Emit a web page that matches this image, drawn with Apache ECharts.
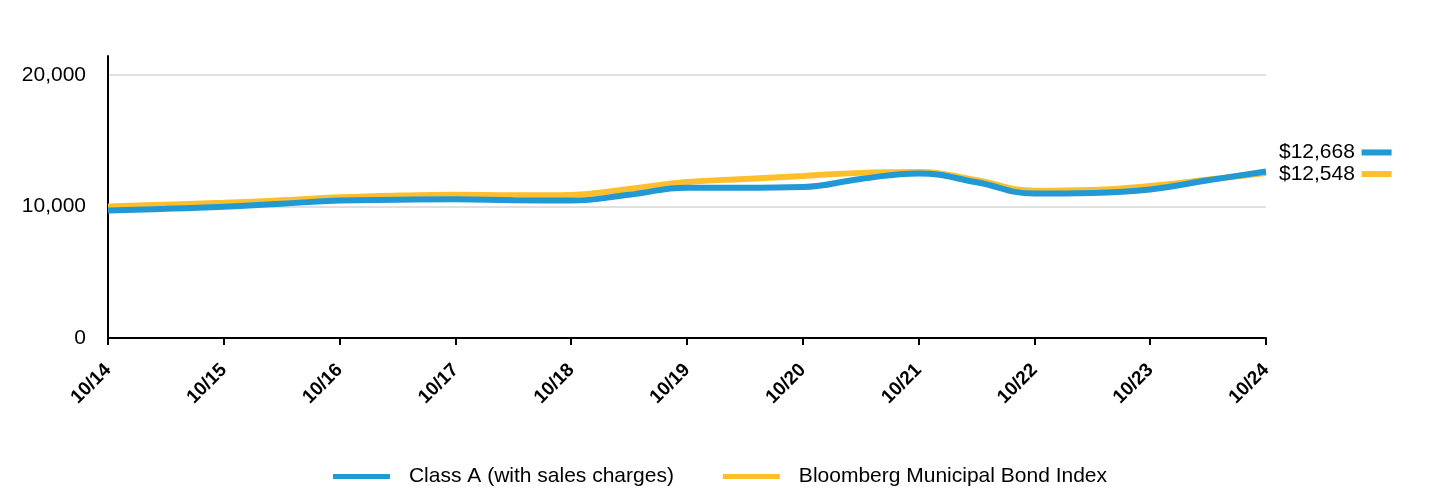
<!DOCTYPE html>
<html><head><meta charset="utf-8">
<script src="https://cdn.jsdelivr.net/npm/echarts@6/dist/echarts.min.js"></script>
<style>html,body{margin:0;padding:0;background:#fff}#c{width:1440px;height:492px}</style>
</head><body><div id="c"></div>
<script>
const periods = ['10/14','4/15','10/15','4/16','10/16','4/17','10/17','4/18','10/18','4/19','10/19','4/20','10/20','4/21','10/21','4/22','10/22','4/23','10/23','4/24','10/24'];
const classA = [9700,9830,9980,10220,10450,10520,10560,10480,10450,10900,11430,11420,11480,12100,12520,11850,10990,11030,11300,12000,12668];
const bloomberg = [10000,10140,10280,10480,10700,10830,10890,10850,10880,11330,11860,12100,12320,12560,12620,12000,11200,11260,11560,12050,12548];
const seriesNames = ['Class A (with sales charges)','Bloomberg Municipal Bond Index'];
const colors = ['#2199d5','#ffbe2b'];

const fmt = v => '$' + v.toLocaleString('en-US');
const chart = echarts.init(document.getElementById('c'), null, {renderer:'canvas'});
chart.setOption({
  animation:false,
  textStyle:{fontFamily:'Liberation Sans, Arial, sans-serif'},
  grid:{left:108,right:174,top:56,bottom:154,containLabel:false},
  legend:{
    bottom:0, left:'center',
    data:[{name:seriesNames[0]},{name:seriesNames[1]}],
    icon:'rect', itemWidth:57, itemHeight:5, itemGap:49,
    textStyle:{fontSize:21,color:'#000',padding:[0,0,0,14]}
  },
  xAxis:{
    type:'category', data:periods, boundaryGap:false,
    axisLine:{lineStyle:{color:'#000',width:2}},
    axisTick:{show:true,interval:1,length:7,lineStyle:{color:'#000',width:2}},
    axisLabel:{interval:1,rotate:45,fontSize:19,fontWeight:'bold',color:'#000',margin:29},
    splitLine:{show:false}
  },
  yAxis:{
    type:'value', min:0, max:21450, interval:10000,
    axisLine:{show:true,lineStyle:{color:'#000',width:2}},
    axisTick:{show:false},
    axisLabel:{fontSize:21,color:'#000',margin:22,showMaxLabel:false,
      formatter:v => v % 10000 === 0 ? v.toLocaleString('en-US') : ''},
    splitLine:{show:true,showMaxLine:false,lineStyle:{color:'#e0e0e0',width:2}}
  },
  series:[
    {name:seriesNames[1], type:'line', data:bloomberg, smooth:0.45, symbol:'none', z:2,
     lineStyle:{color:colors[1],width:6}, itemStyle:{color:colors[1]},
     endLabel:{show:true, offset:[5,1], formatter:p => '{t|' + fmt(p.value) + '}  {b|}',
       rich:{t:{fontSize:21,color:'#000'},b:{width:30,height:6,backgroundColor:colors[1]}}}},
    {name:seriesNames[0], type:'line', data:classA, smooth:0.45, symbol:'none', z:3,
     lineStyle:{color:colors[0],width:6}, itemStyle:{color:colors[0]},
     endLabel:{show:true, offset:[5,-19], formatter:p => '{t|' + fmt(p.value) + '}  {b|}',
       rich:{t:{fontSize:21,color:'#000'},b:{width:30,height:6,backgroundColor:colors[0]}}}}
  ]
});
</script></body></html>
